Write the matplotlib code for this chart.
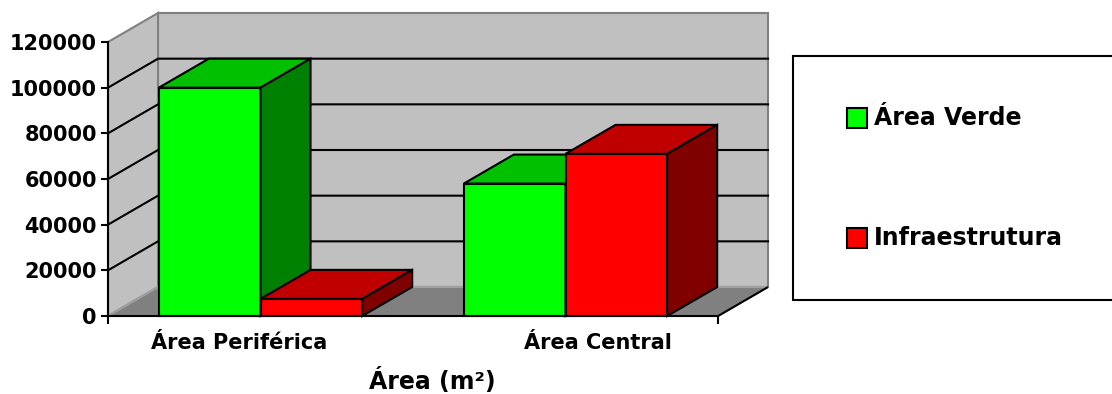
import matplotlib.pyplot as plt
from matplotlib.patches import Polygon, Rectangle

categories = ["Área Periférica", "Área Central"]
series = ["Área Verde", "Infraestrutura"]
area_verde = [100000, 58000]
infraestrutura = [7500, 71000]
values = [area_verde, infraestrutura]

y_ticks = [0, 20000, 40000, 60000, 80000, 100000, 120000]
x_label = "Área (m²)"

# front, top and side shades of each series
SHADES = [("#00FF00", "#00C000", "#008000"),
          ("#FF0000", "#C00000", "#800000")]

DX, DY = 0.164, 12700      # oblique depth offset of the 3-D box
BAR_W = 1 / 3
WALL = "#C0C0C0"
FLOOR = "#808080"
LW = 1.5
FONT = "DejaVu Sans"


def poly(ax, pts, fc, ec, z, lw=LW):
    ax.add_patch(Polygon(pts, closed=True, facecolor=fc, edgecolor=ec,
                         linewidth=lw, zorder=z, clip_on=False,
                         joinstyle="miter"))


def bar3d(ax, x0, h, shades, z):
    x1 = x0 + BAR_W
    front, top, side = shades
    poly(ax, [(x0, 0), (x1, 0), (x1, h), (x0, h)], front, "black", z)
    poly(ax, [(x0, h), (x1, h), (x1 + DX, h + DY), (x0 + DX, h + DY)],
         top, "black", z)
    poly(ax, [(x1, 0), (x1 + DX, DY), (x1 + DX, h + DY), (x1, h)],
         side, "black", z)


def main():
    fig = plt.figure(figsize=(11.12, 3.94), dpi=100)
    ax = fig.add_axes([108 / 1112, 78 / 394, 610 / 1112, 274 / 394])
    n = len(categories)
    ymax = y_ticks[-1]
    ax.set_xlim(0, n)
    ax.set_ylim(0, ymax)
    ax.set_facecolor("none")

    # walls and floor
    poly(ax, [(DX, DY), (n + DX, DY), (n + DX, ymax + DY), (DX, ymax + DY)],
         WALL, FLOOR, 1)
    poly(ax, [(0, 0), (DX, DY), (DX, ymax + DY), (0, ymax)], WALL, FLOOR, 1)
    poly(ax, [(0, 0), (n, 0), (n + DX, DY), (DX, DY)], FLOOR, "#A0A0A0", 1.2)
    ax.plot([n, n + DX], [0, DY], color="black", lw=LW, zorder=1.5,
            clip_on=False, solid_capstyle="butt")

    # gridlines on side and back wall
    for v in y_ticks[1:-1]:
        ax.plot([0, DX, n + DX], [v, v + DY, v + DY], color="black", lw=LW,
                zorder=1.5, clip_on=False)

    # bars, back to front / left to right
    z = 3
    for i in range(n):
        x = i + (1 - BAR_W * len(series)) / 2
        for s, vals in enumerate(values):
            bar3d(ax, x + s * BAR_W, vals[i], SHADES[s], z)
            z += 1

    for side in ("top", "right"):
        ax.spines[side].set_visible(False)
    for side in ("left", "bottom"):
        ax.spines[side].set_linewidth(LW)
        ax.spines[side].set_zorder(20)

    ax.set_yticks(y_ticks)
    ax.set_yticklabels([str(t) for t in y_ticks])
    ax.tick_params(axis="y", direction="out", length=5, width=LW, pad=3,
                   labelsize=15)
    ax.set_xticks([0, n], minor=True)
    ax.tick_params(axis="x", which="minor", direction="out", length=6,
                   width=LW)
    ax.set_xticks([0.43, 1.607])
    ax.set_xticklabels(categories)
    ax.tick_params(axis="x", which="major", length=0, pad=12, labelsize=15)
    for lab in ax.get_xticklabels() + ax.get_yticklabels():
        lab.set_fontweight("bold")
        lab.set_fontfamily(FONT)

    fig.text(432 / 1112, 1 - 381 / 394, x_label, ha="center", va="center",
             fontsize=17, fontweight="bold", family=FONT)

    # legend box
    fig.add_artist(Rectangle((793 / 1112, 1 - 300 / 394), 400 / 1112,
                             244 / 394, transform=fig.transFigure,
                             facecolor="white", edgecolor="black", lw=LW))
    for s, name in enumerate(series):
        yc = 118 + s * 120
        fig.add_artist(Rectangle((847 / 1112, 1 - (yc + 10) / 394),
                                 20 / 1112, 20 / 394,
                                 transform=fig.transFigure,
                                 facecolor=SHADES[s][0], edgecolor="black",
                                 lw=LW))
        fig.text(874 / 1112, 1 - yc / 394, name, ha="left", va="center",
                 fontsize=17, fontweight="bold", family=FONT)

    fig.savefig("out.png", dpi=100)


if __name__ == "__main__":
    main()
